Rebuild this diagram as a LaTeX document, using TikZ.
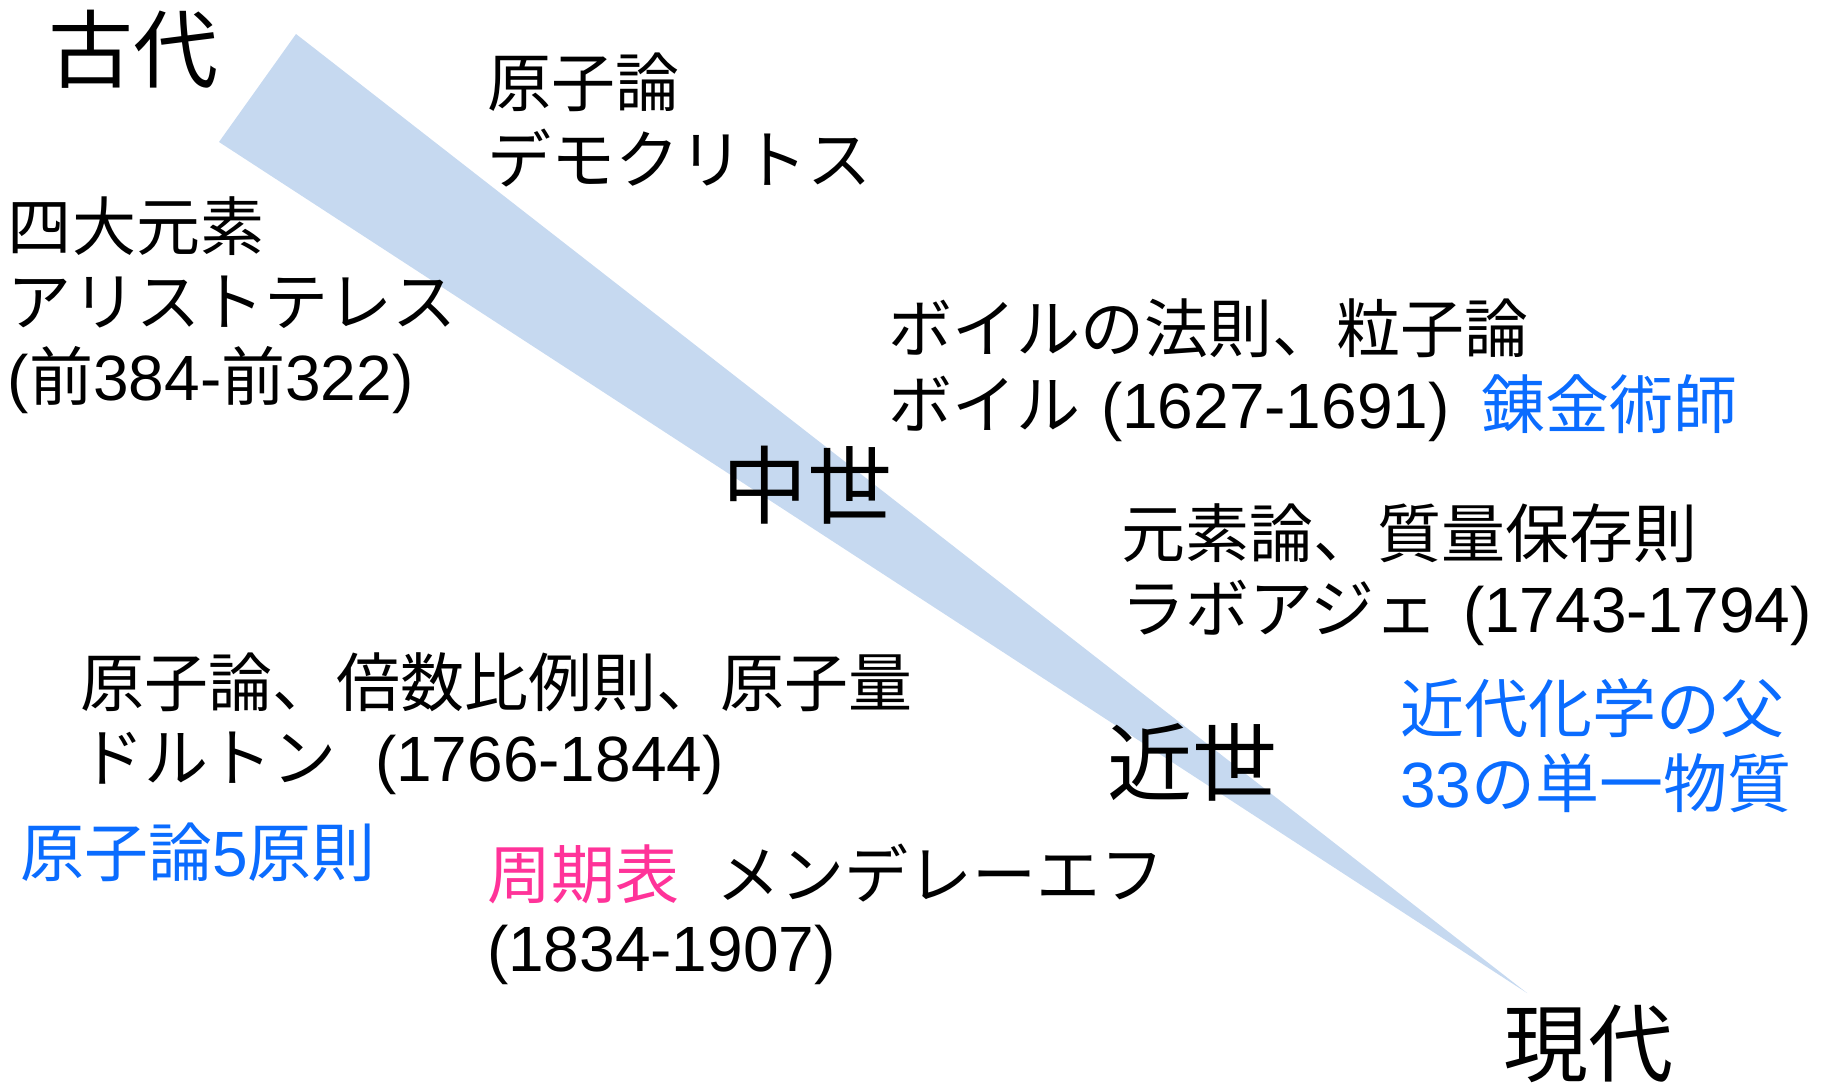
\documentclass[tikz,border=0pt]{standalone}
\usepackage{fontspec}
\newfontfamily\jpf{Noto Sans CJK JP}
\newfontfamily\latf{Liberation Sans}
\definecolor{wedge}{RGB}{198,217,240}
\definecolor{tblue}{RGB}{10,108,255}
\definecolor{tpink}{RGB}{255,51,153}
\tikzset{
  txt/.style={anchor=base west, inner sep=0pt, outer sep=0pt, font=\jpf\fontsize{64}{76}\selectfont},
  big/.style={anchor=base west, inner sep=0pt, outer sep=0pt, font=\jpf\fontsize{85}{100}\selectfont},
  blue/.style={text=tblue},
  pink/.style={text=tpink}
}
\begin{document}
\begin{tikzpicture}[x=1pt,y=-1pt]
\useasboundingbox (0,0) rectangle (1822,1082);
% wedge
\coordinate (wa) at (296,34);
\coordinate (wb) at (1527,993);
\coordinate (wc) at (219,142);
\fill[wedge] (wa) -- (wb) -- (wc) -- cycle;
% era labels
\node[big] (kodai) at (48,81) {古代};
\node[big] (chusei) at (722,517) {中世};
\node[big] (kinsei) at (1107,794) {近世};
\node[big] (gendai) at (1503,1075) {現代};
% Democritus
\node[txt] (d1) at (487,106) {原子論};
\node[txt] (d2) at (487,183) {デモクリトス};
% Aristotle
\node[txt] (a1) at (8,250) {四大元素};
\node[txt] (a2) at (8,325) {アリストテレス};
\node[txt] (a3) at (8,400) {{\latf (}前{\latf 384-}前{\latf 322)}};
% Boyle
\node[txt] (b1) at (888,352) {ボイルの法則、粒子論};
\node[txt] (b2) at (888,428) {ボイル};
\node[txt] (b3) at (1101,428) {\latf (1627-1691)};
\node[txt,blue] (b4) at (1481,428) {錬金術師};
% Lavoisier
\node[txt] (l1) at (1121,557) {元素論、質量保存則};
\node[txt] (l2) at (1121,632) {ラボアジェ};
\node[txt] (l3) at (1463,632) {\latf (1743-1794)};
\node[txt,blue] (l4) at (1400,732) {近代化学の父};
\node[txt,blue] (l5) at (1400,807) {{\latf 33}の単一物質};
% Dalton
\node[txt] (t1) at (80,706) {原子論、倍数比例則、原子量};
\node[txt] (t2) at (80,781) {ドルトン};
\node[txt] (t3) at (375,781) {\latf (1766-1844)};
\node[txt,blue] (t4) at (20,876) {原子論{\latf 5}原則};
% Mendeleev
\node[txt,pink] (m1) at (487,898) {周期表};
\node[txt] (m2) at (716,898) {メンデレーエフ};
\node[txt] (m3) at (487,971) {\latf (1834-1907)};
\end{tikzpicture}
\end{document}
